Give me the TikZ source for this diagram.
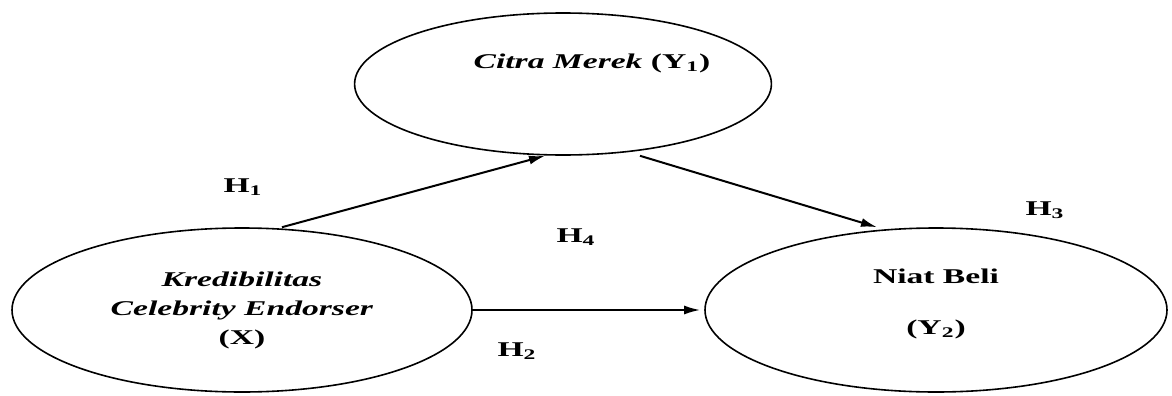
\documentclass[tikz,border=0pt]{standalone}
\usepackage{fontspec}
\setmainfont{Liberation Serif}[FakeStretch=1.6]
\usetikzlibrary{shapes.geometric,positioning,arrows.meta}

\begin{document}
\begin{tikzpicture}[x=0.5pt,y=-0.5pt,on grid,
    var/.style={ellipse, draw, line width=0.8pt, inner sep=0pt, align=center,
      font=\fontsize{10.5}{14.5}\selectfont\bfseries},
    hyp/.style={font=\fontsize{10.5}{12}\selectfont\bfseries}]
   \useasboundingbox (0,0) rectangle (1172,396);
   \node[var, minimum width=230pt, minimum height=82pt] (x) at (242,310)
      {\textit{Kredibilitas}\\\textit{Celebrity Endorser}\\(X)};
   \node[var, minimum width=200pt, minimum height=71pt, text height=8pt, text depth=24pt] (y1)
      [above right=113pt and 160.5pt of x] {\hspace*{29pt}\textit{Citra Merek} (Y\textsubscript{1})};
   \node[var, minimum width=231pt, minimum height=82pt] (y2) [right=347pt of x]
      {Niat Beli\\[11pt](Y\textsubscript{2})\\[-6pt]\mbox{}};
   \node[hyp] (h1) at (243,187) {H\textsubscript{1}};
   \node[hyp] (h2) at (517,351) {H\textsubscript{2}};
   \node[hyp] (h3) at (1045,210) {H\textsubscript{3}};
   \node[hyp] (h4) at (576,237) {H\textsubscript{4}};
    \path[->, line width=1pt, >={Latex[length=8pt,width=4.5pt]}]
    ([xshift=20pt]x.north) edge ([xshift=-9pt]y1.south)
    ([xshift=38.5pt]y1.south) edge ([xshift=-29.5pt]y2.north)
    (x.east) edge ([xshift=-2pt]y2.west);
\end{tikzpicture}
\end{document}
